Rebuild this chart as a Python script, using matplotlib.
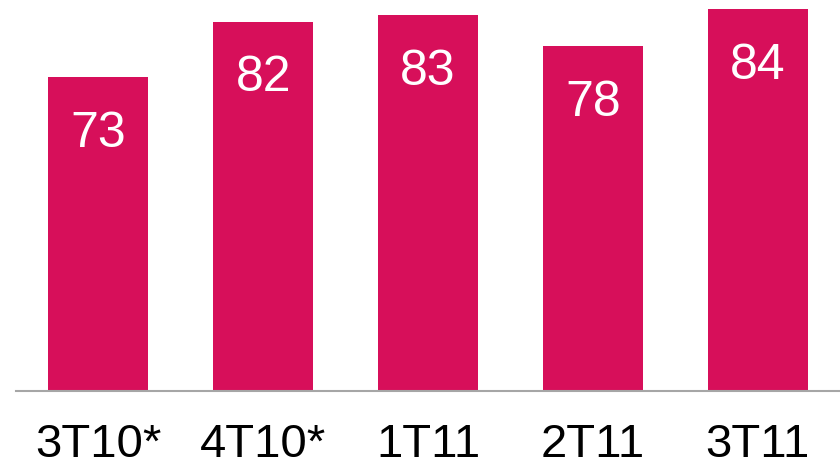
import matplotlib
matplotlib.use("Agg")
import matplotlib.pyplot as plt

quarters = ["3T10*", "4T10*", "1T11", "2T11", "3T11"]
values = [73, 82, 83, 78, 84]

plt.rcParams["font.family"] = ["Liberation Sans", "DejaVu Sans"]

fig = plt.figure(figsize=(8.4, 4.68), dpi=100)
ax = fig.add_axes([16 / 840, 77 / 468, 824 / 840, 391 / 468])

x = range(len(values))
ax.bar(x, values, width=0.606, color="#D70F5A")
ax.set_xlim(-0.5, 4.5)
ax.set_ylim(22, 85.5)

# value labels sit inside the top of each bar
for xi, v in zip(x, values):
    ax.annotate(str(v), (xi, v), xytext=(0, -41), textcoords="offset points",
                ha="center", va="center", color="white", fontsize=36)

ax.set_xticks(list(x))
ax.set_xticklabels(quarters, fontsize=34)
ax.tick_params(axis="x", length=0, pad=23)
ax.set_yticks([])
for side in ["top", "right", "left"]:
    ax.spines[side].set_visible(False)
ax.spines["bottom"].set_color("#A6A6A6")
ax.spines["bottom"].set_linewidth(1.5)

fig.savefig("out.png", dpi=100)
